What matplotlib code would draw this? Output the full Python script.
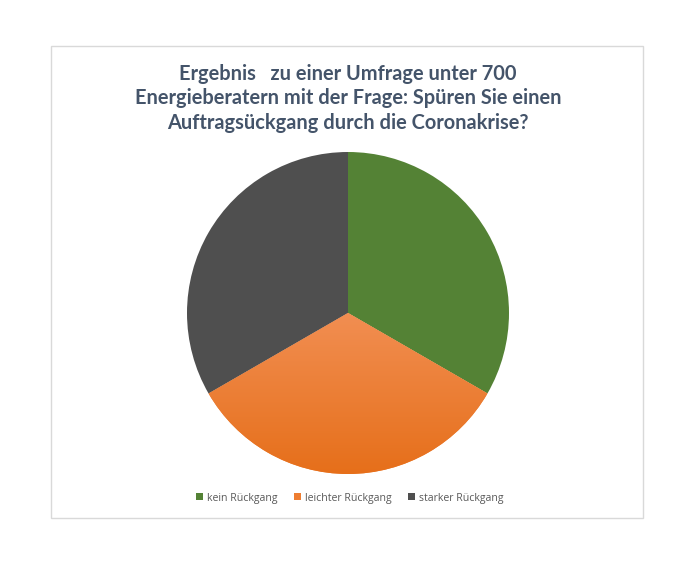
import numpy as np
import matplotlib.pyplot as plt
from matplotlib.patches import Rectangle
from matplotlib.colors import LinearSegmentedColormap

categories = ["kein Rückgang", "leichter Rückgang", "starker Rückgang"]
values = [33.3, 33.3, 33.3]
colors = ["#548235", "#EE7D31", "#4F4F4F"]
title = ("Ergebnis   zu einer Umfrage unter 700\n"
         "Energieberatern mit der Frage: Spüren Sie einen\n"
         "Auftragsückgang durch die Coronakrise?")

W, H = 696, 564
fig = plt.figure(figsize=(W / 100, H / 100), dpi=100)
fig.patch.set_facecolor("white")

# light grey chart border
fig.add_artist(Rectangle((51 / W, 1 - 518 / H), (643 - 51) / W, (518 - 46) / H,
                         transform=fig.transFigure, fill=False,
                         edgecolor="#D9D9D9", linewidth=1))

cx, cy, r = 348, 313, 161
ax = fig.add_axes([(cx - r) / W, 1 - (cy + r) / H, 2 * r / W, 2 * r / H])
wedges, _ = ax.pie(values, colors=colors, startangle=90, counterclock=False,
                   radius=1, wedgeprops=dict(linewidth=0))
ax.set_xlim(-1, 1)
ax.set_ylim(-1, 1)
ax.set_aspect("equal")
ax.axis("off")

# vertical gradient on the orange slice
grad = np.linspace(0, 1, 256).reshape(-1, 1)
cmap = LinearSegmentedColormap.from_list("org", ["#F29055", "#E66F1A"])
im = ax.imshow(grad, extent=(-1, 1, -1, 0.05), origin="upper", cmap=cmap,
               aspect="auto", zorder=wedges[1].get_zorder() + 0.1)
im.set_clip_path(wedges[1])
ax.set_xlim(-1, 1)
ax.set_ylim(-1, 1)

fig.text(348 / W, 1 - 98.5 / H, title, ha="center", va="center",
         fontsize=14.4, fontweight="bold", color="#44546A",
         family="Lato", linespacing=1.3)

handles = [Rectangle((0, 0), 1, 1, facecolor=c) for c in colors]
fig.legend(handles, categories, loc="center", bbox_to_anchor=(350 / W, 1 - 498 / H),
           ncol=3, frameon=False, handlelength=0.6, handleheight=0.6,
           handletextpad=0.4, columnspacing=1.6, labelcolor="#595959",
           prop={"family": "Open Sans", "size": 7.6})

fig.savefig("out.png", dpi=100)
